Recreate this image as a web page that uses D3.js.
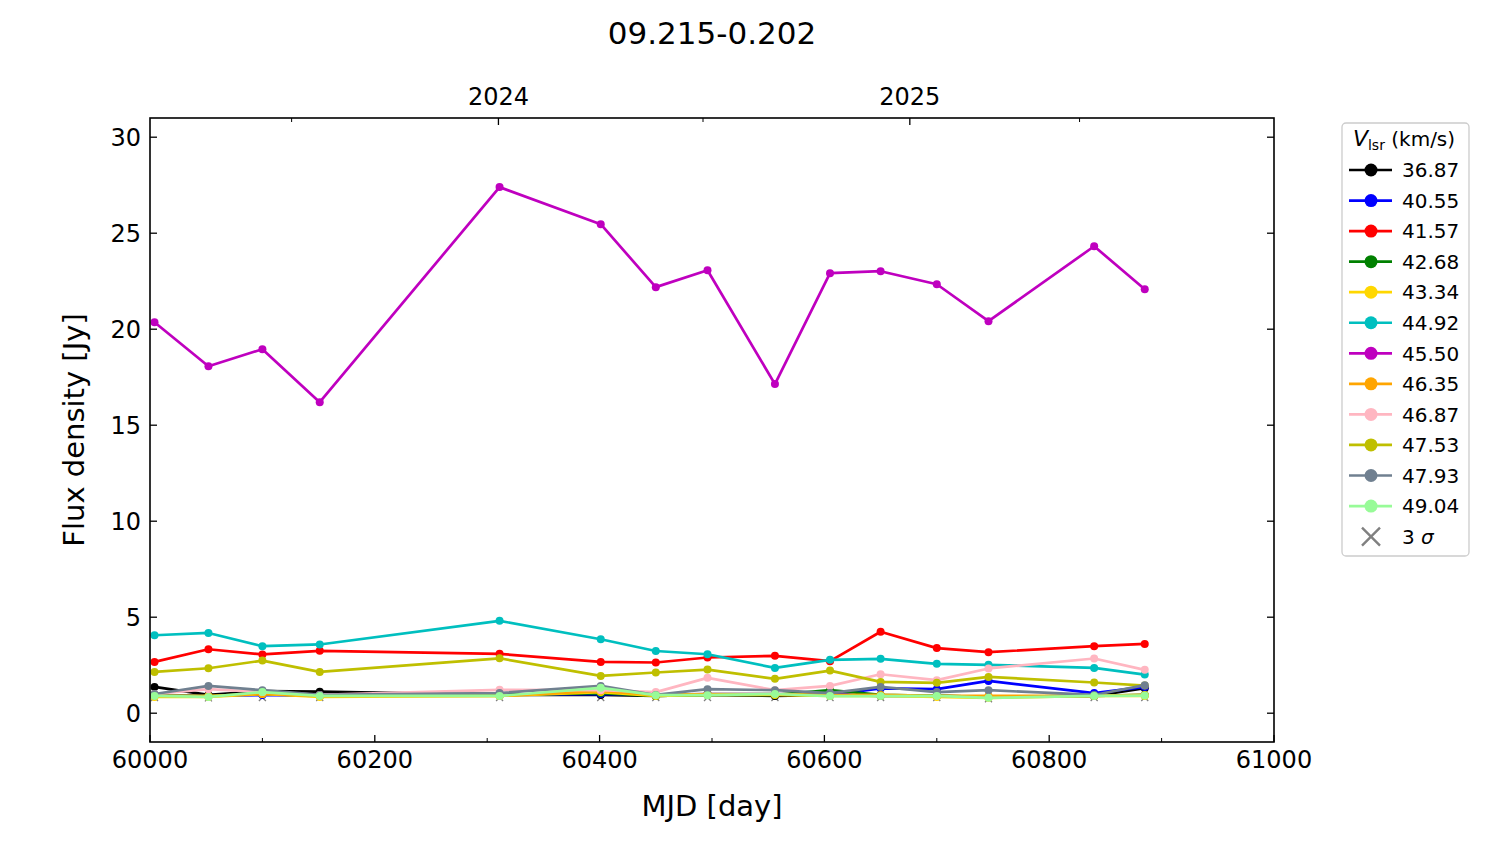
<!DOCTYPE html>
<html><head><meta charset="utf-8">
<script src="https://cdn.jsdelivr.net/npm/d3@7"></script>
<style>body{margin:0;background:#fff}svg{font-family:"DejaVu Sans",sans-serif}</style>
</head><body><svg id="c" width="1500" height="844"></svg>
<script>
const mjd = [60004, 60052, 60100, 60151, 60311, 60401, 60450, 60496, 60556, 60605, 60650, 60700, 60746, 60840, 60885];
const v3687 = [1.37, 0.95, 1.15, 1.12, 0.95, 0.95, 0.9, 0.95, 0.9, 0.95, 0.9, 0.9, 0.85, 0.9, 1.3];
const v4055 = [0.9, 0.9, 0.95, 0.9, 0.95, 1.0, 0.95, 1.0, 1.0, 0.95, 1.29, 1.25, 1.68, 1.05, 1.37];
const v4157 = [2.67, 3.33, 3.06, 3.25, 3.09, 2.67, 2.64, 2.9, 2.99, 2.71, 4.24, 3.39, 3.18, 3.49, 3.61];
const v4268 = [0.9, 0.9, 1.0, 0.9, 0.95, 1.05, 0.9, 0.95, 0.95, 1.2, 0.95, 0.9, 0.85, 0.9, 0.95];
const v4334 = [0.85, 0.85, 1.0, 0.85, 0.9, 1.1, 0.9, 0.95, 0.95, 0.9, 0.9, 0.85, 0.8, 0.9, 0.9];
const v4492 = [4.06, 4.18, 3.49, 3.58, 4.81, 3.85, 3.24, 3.07, 2.36, 2.78, 2.83, 2.57, 2.52, 2.36, 2.01];
const v4550 = [20.36, 18.07, 18.96, 16.2, 27.4, 25.47, 22.19, 23.07, 17.14, 22.92, 23.02, 22.34, 20.42, 24.32, 22.08];
const v4635 = [0.9, 0.9, 1.0, 0.9, 0.9, 1.15, 0.95, 1.0, 1.0, 0.95, 0.95, 0.9, 0.9, 0.9, 0.95];
const v4687 = [1.0, 1.25, 1.1, 0.95, 1.22, 1.2, 1.1, 1.84, 1.2, 1.42, 2.03, 1.72, 2.33, 2.85, 2.26];
const v4753 = [2.15, 2.34, 2.74, 2.15, 2.86, 1.94, 2.12, 2.27, 1.79, 2.22, 1.63, 1.58, 1.89, 1.6, 1.44];
const v4793 = [1.0, 1.42, 1.2, 0.95, 1.05, 1.42, 0.95, 1.25, 1.2, 1.05, 1.37, 1.1, 1.2, 0.95, 1.46];
const v4904 = [0.9, 0.85, 1.1, 0.9, 0.9, 1.32, 0.94, 0.94, 1.0, 0.89, 0.89, 0.9, 0.8, 0.9, 0.92];
const sigma3 = [0.82, 0.8, 0.82, 0.82, 0.82, 0.82, 0.82, 0.82, 0.82, 0.82, 0.82, 0.82, 0.75, 0.82, 0.82];
const velocities = ["36.87","40.55","41.57","42.68","43.34","44.92","45.50","46.35","46.87","47.53","47.93","49.04"];
const seriesValues = [v3687,v4055,v4157,v4268,v4334,v4492,v4550,v4635,v4687,v4753,v4793,v4904];
const colors = ["#000000","#0000ff","#ff0000","#008000","#ffd700","#00bfbf","#bf00bf","#ffa500","#ffb6c1","#bfbf00","#708090","#98fb98"];
const xTicks = [60000,60200,60400,60600,60800,61000];
const xMinor = [60100,60300,60500,60700,60900];
const yTicks = [0,5,10,15,20,25,30];
const topMajor = [{mjd:60310,label:"2024"},{mjd:60676,label:"2025"}];
const topMinor = [60126, 60492, 60827];

const svg = d3.select("#c");
const L=150,R=1274,T=118,B=742;
const x = d3.scaleLinear().domain([60000,61000]).range([L,R]);
const y = d3.scaleLinear().domain([-1.5,31]).range([B,T]);

const fs=24;
svg.append("text").attr("x",(L+R)/2).attr("y",44).attr("text-anchor","middle").attr("font-size",31).text("09.215-0.202");
svg.append("text").attr("x",(L+R)/2).attr("y",816).attr("text-anchor","middle").attr("font-size",29).text("MJD [day]");
svg.append("text").attr("transform",`translate(84,${(T+B)/2}) rotate(-90)`).attr("text-anchor","middle").attr("font-size",29).text("Flux density [Jy]");

svg.append("defs").append("clipPath").attr("id","pc").append("rect").attr("x",L).attr("y",T).attr("width",R-L).attr("height",B-T);
const g = svg.append("g").attr("clip-path","url(#pc)");

// 3 sigma crosses
const cs=3.5;
g.selectAll("path.sig").data(mjd.map((m,i)=>[m,sigma3[i]])).join("path")
 .attr("d",d=>{const px=x(d[0]),py=y(d[1]);return `M${px-cs},${py-cs}L${px+cs},${py+cs}M${px-cs},${py+cs}L${px+cs},${py-cs}`;})
 .attr("stroke","#808080").attr("stroke-width",1.3).attr("fill","none");

const line = d3.line().x(d=>x(d[0])).y(d=>y(d[1]));
seriesValues.forEach((vals,k)=>{
  const pts = mjd.map((m,i)=>[m,vals[i]]);
  g.append("path").datum(pts).attr("d",line).attr("fill","none").attr("stroke",colors[k]).attr("stroke-width",2.7).attr("stroke-linejoin","round");
  g.selectAll(null).data(pts).join("circle").attr("cx",d=>x(d[0])).attr("cy",d=>y(d[1])).attr("r",4).attr("fill",colors[k]);
});

svg.append("rect").attr("x",L).attr("y",T).attr("width",R-L).attr("height",B-T).attr("fill","none").attr("stroke","#000").attr("stroke-width",1.6);

const ax = svg.append("g");
xTicks.forEach(t=>{
  ax.append("line").attr("x1",x(t)).attr("x2",x(t)).attr("y1",B).attr("y2",B-7).attr("stroke","#000").attr("stroke-width",1.3);
  ax.append("text").attr("x",x(t)).attr("y",B+26).attr("text-anchor","middle").attr("font-size",fs).text(t);
});
xMinor.forEach(t=>{
  ax.append("line").attr("x1",x(t)).attr("x2",x(t)).attr("y1",B).attr("y2",B-4).attr("stroke","#000").attr("stroke-width",1);
});
yTicks.forEach(t=>{
  ax.append("line").attr("x1",L).attr("x2",L+7).attr("y1",y(t)).attr("y2",y(t)).attr("stroke","#000").attr("stroke-width",1.3);
  ax.append("line").attr("x1",R).attr("x2",R-7).attr("y1",y(t)).attr("y2",y(t)).attr("stroke","#000").attr("stroke-width",1.3);
  ax.append("text").attr("x",L-9).attr("y",y(t)).attr("dy","0.36em").attr("text-anchor","end").attr("font-size",fs).text(t);
});
topMajor.forEach(t=>{
  ax.append("line").attr("x1",x(t.mjd)).attr("x2",x(t.mjd)).attr("y1",T).attr("y2",T+7).attr("stroke","#000").attr("stroke-width",1.3);
  ax.append("text").attr("x",x(t.mjd)).attr("y",T-13).attr("text-anchor","middle").attr("font-size",fs).text(t.label);
});
topMinor.forEach(t=>{
  ax.append("line").attr("x1",x(t)).attr("x2",x(t)).attr("y1",T).attr("y2",T+4).attr("stroke","#000").attr("stroke-width",1);
});

const lg = svg.append("g");
lg.append("rect").attr("x",1342).attr("y",123).attr("width",127).attr("height",433).attr("rx",4).attr("fill","#fff").attr("stroke","#cccccc").attr("stroke-width",1.3);
const lt = lg.append("text").attr("x",1404).attr("y",146).attr("text-anchor","middle").attr("font-size",20);
lt.append("tspan").attr("font-style","italic").attr("font-size",22).text("V");
lt.append("tspan").attr("font-size",14).attr("dy",4).text("lsr");
lt.append("tspan").attr("dy",-4).text(" (km/s)");
velocities.forEach((v,k)=>{
  const yy = 170 + k*30.55;
  lg.append("line").attr("x1",1349).attr("x2",1392).attr("y1",yy).attr("y2",yy).attr("stroke",colors[k]).attr("stroke-width",2.7);
  lg.append("circle").attr("cx",1371).attr("cy",yy).attr("r",6.5).attr("fill",colors[k]);
  lg.append("text").attr("x",1402).attr("y",yy).attr("dy","0.36em").attr("font-size",20).text(v);
});
{
  const yy = 170 + 12*30.55, cx=1371, s=9;
  lg.append("path").attr("d",`M${cx-s},${yy-s}L${cx+s},${yy+s}M${cx-s},${yy+s}L${cx+s},${yy-s}`).attr("stroke","#808080").attr("stroke-width",2.4);
  const t = lg.append("text").attr("x",1402).attr("y",yy).attr("dy","0.36em").attr("font-size",20);
  t.append("tspan").text("3 ");
  t.append("tspan").attr("font-style","italic").text("σ");
}
</script></body></html>
